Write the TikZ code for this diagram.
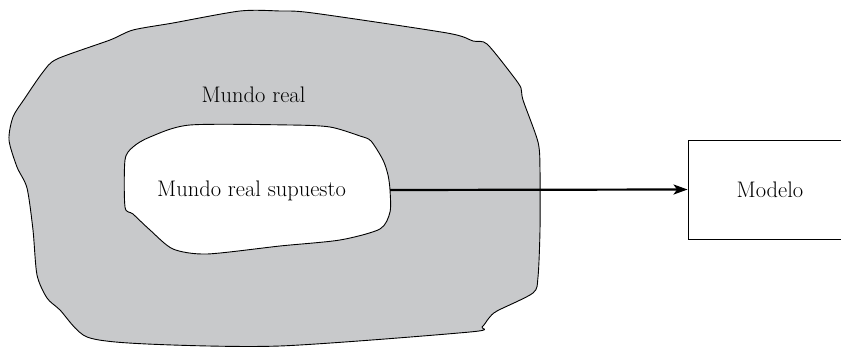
\documentclass[tikz,border=0pt]{standalone}
\usetikzlibrary{arrows.meta}
\definecolor{blobgray}{HTML}{C8C9CB}
\tikzset{
  blob/.style={draw=black, line width=0.9pt, line join=round},
  lbl/.style={font=\fontsize{22.5}{26}\selectfont, anchor=base, inner sep=0pt, text=black},
  conn/.style={line width=2.2pt, -{Stealth[length=14pt, width=10pt, inset=3.5pt]}},
  boxst/.style={draw=black, line width=0.9pt, minimum width=160pt, minimum height=99pt, inner sep=0pt}
}
\begin{document}
\begin{tikzpicture}[x=1pt, y=-1pt]
\clip (0,0) rectangle (841,347);
\useasboundingbox (0,0) rectangle (841,347);
% outer blob
\draw[blob, fill=blobgray] plot[smooth cycle, tension=0.45] coordinates {
 (240,11) (173,23) (133,30) (110,40) (57,59) (43,72) (25,98) (13,117) (9,140) (17,167)
 (27,188) (33,230) (37,275) (47,298) (60,310) (87,337) (147,344) (280,346) (470,332)
 (482,327) (489,318) (497,311) (533,293) (538,277) (540,230) (540,170) (538,142)
 (523,100) (521,88) (513,76) (487,44) (473,41) (447,33) (313,13) (280,11)};
% inner blob
\draw[blob, fill=white] plot[smooth cycle, tension=0.45] coordinates {
 (190,125) (290,125) (330,127) (360,136) (371,141) (383,160) (388,175) (390,190)
 (390,212) (380,229) (340,240) (280,246) (207,254) (173,249) (150,230) (133,214)
 (125,207) (125,160) (133,147) (150,137)};
\coordinate (innerE) at (390,190);
\node[lbl] (real) at (253.5,103) {Mundo real};
\node[lbl] (supuesto) at (251.5,197) {Mundo real supuesto};
\node[boxst] (box) at (768,189.5) {};
\node[lbl] (modelo) at (770,198) {Modelo};
\draw[conn] (innerE) -- (box.west);
\end{tikzpicture}
\end{document}
